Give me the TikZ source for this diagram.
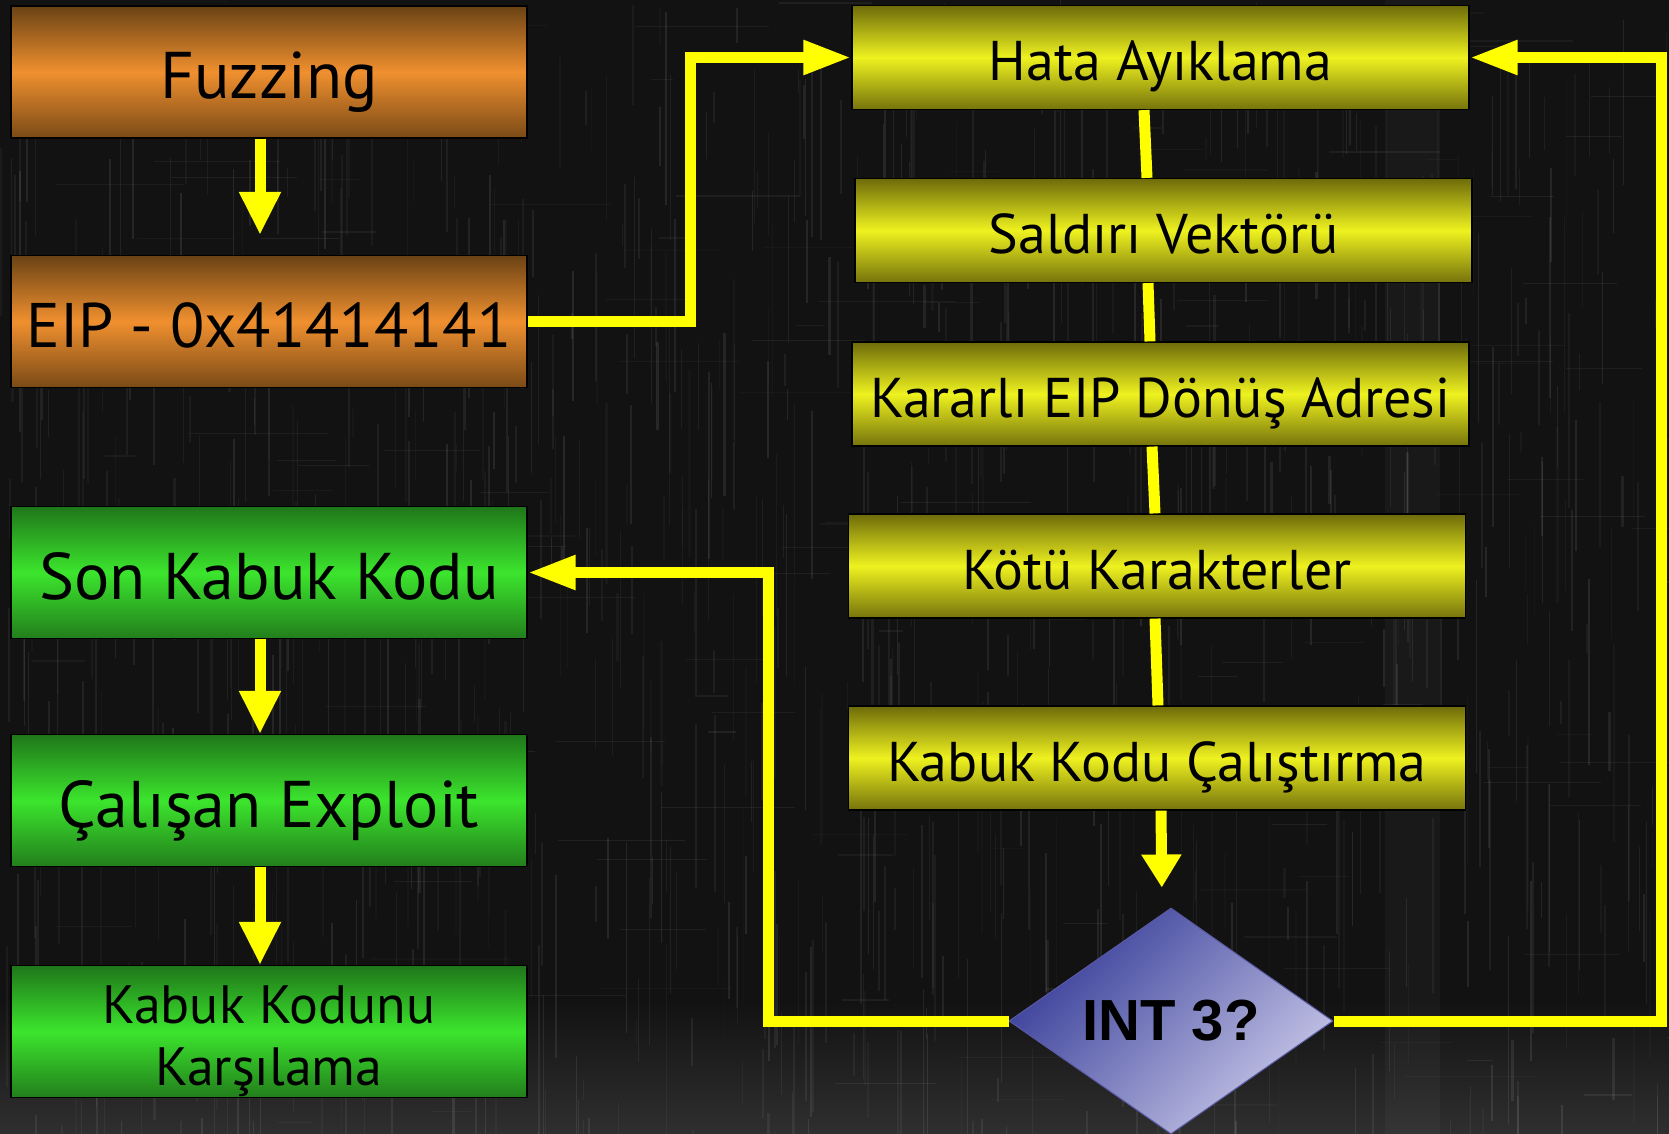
\documentclass[tikz,border=0pt]{standalone}
\usepackage{fontspec}
\setmainfont{PT Sans}
\newfontfamily\intfont{Liberation Sans}
\usetikzlibrary{arrows.meta,shapes.geometric,calc}
\definecolor{bgc}{HTML}{121212}
\definecolor{orTop}{HTML}{6A4214}
\definecolor{orMid}{HTML}{F0902F}
\definecolor{orBot}{HTML}{7A4A16}
\definecolor{grTop}{HTML}{1F761A}
\definecolor{grMid}{HTML}{3CE52D}
\definecolor{grBot}{HTML}{227E1C}
\definecolor{yeTop}{HTML}{6E6B0A}
\definecolor{yeMid}{HTML}{EEF21F}
\definecolor{yeBot}{HTML}{76730C}
\definecolor{diaDark}{HTML}{363C98}
\definecolor{diaLight}{HTML}{C8C8E8}
\definecolor{conc}{HTML}{FFFF00}
\tikzset{
  box/.style={draw=black, line width=1.2pt, inner sep=0pt, text=black, align=center},
  leftbox/.style={box, minimum width=516pt, minimum height=132pt, font=\fontsize{66}{79}\selectfont,
     text height=54pt, text depth=0pt},
  rightbox/.style={box, minimum width=617pt, minimum height=104pt, font=\fontsize{56}{64}\selectfont,
     text height=46pt, text depth=0pt,
     top color=yeTop, bottom color=yeBot, middle color=yeMid},
  orangebox/.style={leftbox, top color=orTop, bottom color=orBot, middle color=orMid},
  greenbox/.style={leftbox, top color=grTop, bottom color=grBot, middle color=grMid},
  conn/.style={draw=conc, line width=11pt},
  harr/.style={conn, -{Triangle[length=48pt,width=32pt]}},
  varr/.style={conn, -{Triangle[length=43pt,width=39pt]}},
  sarr/.style={conn, -{Triangle[length=33pt,width=38pt]}},
}
\begin{document}
\begin{tikzpicture}[x=1pt,y=-1pt]
\useasboundingbox (0,0) rectangle (1669,1134);
\fill[bgc] (0,0) rectangle (1669,1134);
% grunge texture
\shade[top color=bgc, bottom color=black!70!white, opacity=0.5] (0,1000) rectangle (1669,1134);
\fill[white,opacity=0.03] (1385,0) rectangle (1440,1134);
\pgfmathsetseed{7}
\foreach \i in {1,...,900}{
  \pgfmathsetmacro\xa{rnd*1669}
  \pgfmathsetmacro\ya{rnd*1134}
  \pgfmathsetmacro\ln{20+rnd*180}
  \pgfmathsetmacro\wd{0.8+rnd*1.6}
  \pgfmathsetmacro\op{0.02+0.07*rnd}
  \fill[white,opacity=\op] (\xa,\ya) rectangle ++(\wd,\ln);
}
\foreach \i in {1,...,160}{
  \pgfmathsetmacro\xa{rnd*1669}
  \pgfmathsetmacro\ya{rnd*1134}
  \pgfmathsetmacro\ln{20+rnd*120}
  \pgfmathsetmacro\op{0.02+0.05*rnd}
  \fill[white,opacity=\op] (\xa,\ya) rectangle ++(\ln,1.2);
}

% left column
\node[orangebox] (fuzz) at (269,72) {Fuzzing};
\node[orangebox, font=\fontsize{63}{75}\selectfont, text height=52pt] (eip) at (269,321.5) {EIP - 0x41414141};
\node[greenbox] (son) at (269,572.5) {Son Kabuk Kodu};
\node[greenbox] (calisan) at (269,800.5) {Çalışan Exploit};
\node[box, minimum width=516pt, minimum height=132pt, font=\fontsize{54}{62.5}\selectfont,
      top color=grTop, bottom color=grBot, middle color=grMid] (kabuk) at (269,1031.5)
      {\rule{0pt}{57pt}Kabuk Kodunu\\Karşılama};

% right column
\node[rightbox] (hata) at (1160.5,57.5) {Hata Ayıklama};
\node[rightbox] (saldiri) at (1163.5,230.5) {Saldırı Vektörü};
\node[rightbox] (kararli) at (1160.5,394) {Kararlı EIP Dönüş Adresi};
\node[rightbox] (kotu) at (1157,566) {Kötü Karakterler};
\node[rightbox] (calistirma) at (1157,758) {Kabuk Kodu Çalıştırma};

% decision
\node[diamond, draw=gray!70!blue, line width=1pt, inner sep=0pt, aspect=1.43,
      minimum width=324pt, minimum height=226pt,
      top color=diaDark, bottom color=diaLight, shading angle=45,
      font=\intfont\bfseries\fontsize{58}{64}\selectfont, text=black] (int) at (1171,1021) {INT 3?};

% connectors
\draw[varr, shorten >=20pt] ([xshift=-9pt]fuzz.south) -- ([xshift=-9pt]eip.north);
\draw[varr] ([xshift=-9pt]son.south) -- ([xshift=-9pt]calisan.north);
\draw[varr] ([xshift=-9pt]calisan.south) -- ([xshift=-9pt]kabuk.north);
\draw[harr] (eip.east) -- ++(163,0) |- (hata.west);
\draw[conn] ([xshift=-16.5pt]hata.south) -- ([xshift=-16.5pt]saldiri.north);
\draw[conn] ([xshift=-15.5pt]saldiri.south) -- ([xshift=-10.5pt]kararli.north);
\draw[conn] ([xshift=-8.5pt]kararli.south) -- ([xshift=-2pt]kotu.north);
\draw[conn] ([xshift=-2pt]kotu.south) -- ([xshift=1pt]calistirma.north);
\draw[sarr, shorten >=20pt] ([xshift=4pt]calistirma.south) -- ([xshift=-9pt]int.north);
\draw[harr] (int.west) -- ++(-240,0) |- (son.east);
\draw[harr] (int.east) -- ++(328,0) |- (hata.east);
\end{tikzpicture}
\end{document}
